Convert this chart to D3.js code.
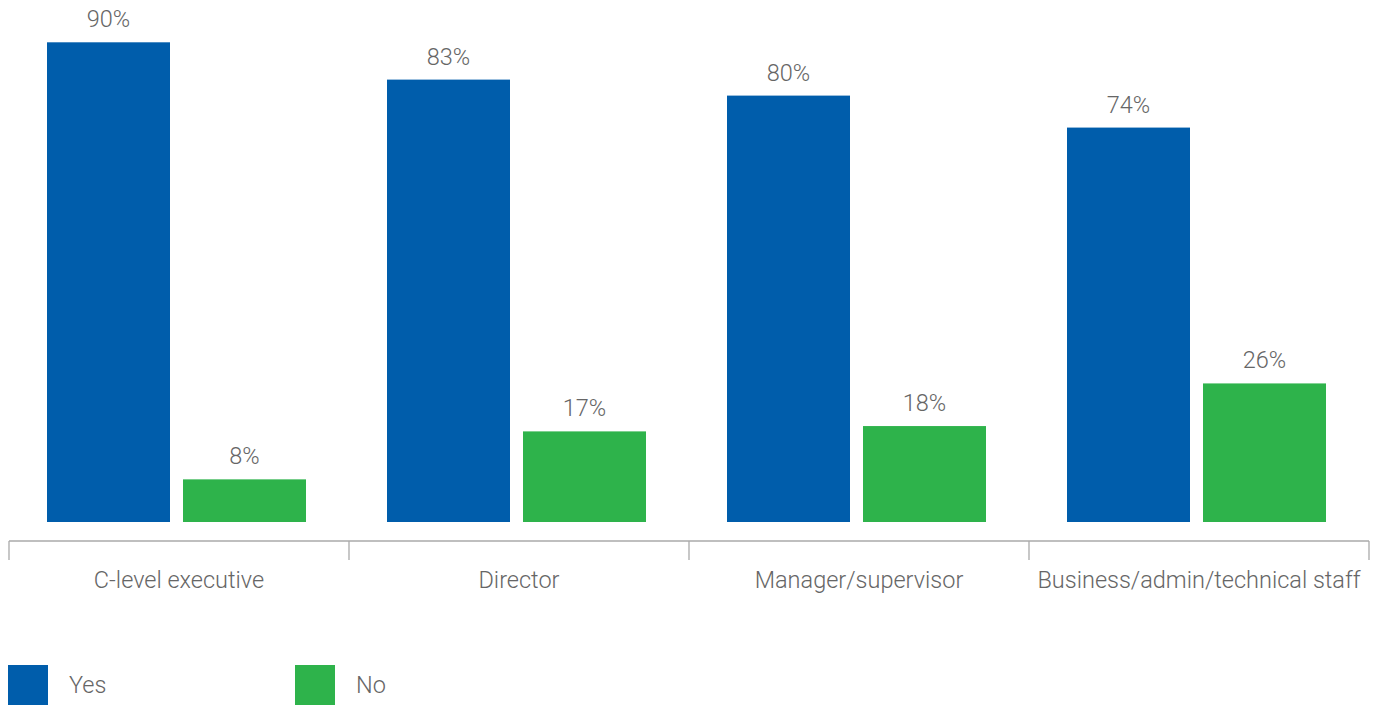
<!DOCTYPE html>
<html>
<head>
<meta charset="utf-8">
<script src="https://cdn.jsdelivr.net/npm/d3@7"></script>
<style>
  html, body { margin: 0; padding: 0; background: #fff; }
  svg { display: block; }
  text { font-family: "Roboto", "Liberation Sans", sans-serif; font-weight: 300; fill: #666; }
</style>
</head>
<body>
<svg id="chart" width="1374" height="706"></svg>
<script>
const categories = ["C-level executive", "Director", "Manager/supervisor", "Business/admin/technical staff"];
const seriesNames = ["Yes", "No"];
const yesValues = [90, 83, 80, 74];
const noValues = [8, 17, 18, 26];
const colors = ["#005dab", "#2eb34b"];

const seriesValues = [yesValues, noValues];
const rows = categories.map((c, i) => ({
  category: c,
  values: seriesNames.map((s, j) => ({ series: s, value: seriesValues[j][i] }))
}));

const svg = d3.select("#chart");
const baseline = 522;
const fontSize = 23.5;

const x0 = d3.scaleBand().domain(categories).range([9, 1369]).paddingInner(0).paddingOuter(0);
const x1 = d3.scaleBand().domain(seriesNames).range([38, 297]).paddingInner(13 / 136).paddingOuter(0);
const y = d3.scaleLinear().domain([0, 100]).range([baseline, baseline - 533]);
const color = d3.scaleOrdinal().domain(seriesNames).range(colors);

// grouped bars
const groups = svg.append("g").selectAll("g")
  .data(rows).join("g")
  .attr("transform", d => `translate(${x0(d.category)},0)`);

groups.selectAll("rect")
  .data(d => d.values).join("rect")
  .attr("x", d => x1(d.series))
  .attr("width", x1.bandwidth())
  .attr("y", d => y(d.value))
  .attr("height", d => y(0) - y(d.value))
  .attr("fill", d => color(d.series));

groups.selectAll("text.value")
  .data(d => d.values).join("text")
  .attr("class", "value")
  .attr("x", d => x1(d.series) + x1.bandwidth() / 2)
  .attr("y", d => y(d.value) - 15)
  .attr("text-anchor", "middle")
  .attr("font-size", fontSize)
  .text(d => d.value + "%");

// category axis: horizontal rule with separators between groups
const axisY = 541;
const axisG = svg.append("g");
axisG.append("line")
  .attr("x1", x0.range()[0]).attr("x2", x0.range()[1])
  .attr("y1", axisY).attr("y2", axisY)
  .attr("stroke", "#aaa").attr("stroke-width", 1.3);
const tickXs = categories.map(c => x0(c)).concat([x0.range()[1]]);
axisG.selectAll("line.tick")
  .data(tickXs).join("line")
  .attr("class", "tick")
  .attr("x1", d => d).attr("x2", d => d)
  .attr("y1", axisY).attr("y2", axisY + 19)
  .attr("stroke", "#aaa").attr("stroke-width", 1.3);
axisG.selectAll("text")
  .data(categories).join("text")
  .attr("x", d => x0(d) + x0.bandwidth() / 2)
  .attr("y", 588)
  .attr("text-anchor", "middle")
  .attr("font-size", fontSize)
  .text(d => d);

// legend
const legend = svg.append("g").selectAll("g")
  .data(seriesNames).join("g")
  .attr("transform", (d, i) => `translate(${8 + i * 287},665)`);
legend.append("rect")
  .attr("width", 40).attr("height", 40)
  .attr("fill", d => color(d));
legend.append("text")
  .attr("x", 61).attr("y", 28)
  .attr("font-size", fontSize)
  .text(d => d);
</script>
</body>
</html>
